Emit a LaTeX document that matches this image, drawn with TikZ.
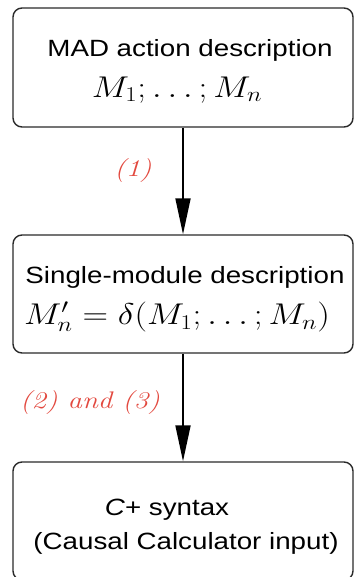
\RequirePackage{fix-cm}
\documentclass[tikz,border=0pt]{standalone}
\usepackage{amsmath,amssymb}
\usepackage{fontspec}
\newfontfamily\arialfont{Liberation Sans}
\usetikzlibrary{arrows.meta, positioning}
\definecolor{lblred}{HTML}{E2483E}
\definecolor{edgegray}{HTML}{2A2A2A}

\begin{document}
\begin{tikzpicture}[x=1pt, y=-1pt,
  box/.style={draw=edgegray, line width=1.4pt, rounded corners=9pt, minimum width=340pt},
  txt/.style={font=\arialfont\fontsize{23.5}{27}\selectfont, xscale=1.18, transform shape},
  mth/.style={font=\fontsize{30}{34}\selectfont, xscale=1.18, transform shape},
  steplbl/.style={text=lblred, font=\itshape\fontsize{24}{27}\selectfont, xscale=1.2, transform shape},
  flow/.style={line width=1.8pt, -{Triangle[length=36pt, width=15pt]}}]

\useasboundingbox (0,0) rectangle (354,577);

% Box: MAD action description
\node[box, minimum height=119pt] (mad) at (183,67.5) {};
\node[txt] (madtxt) at (190,50) {MAD action description};
\node[mth] (madmath) at (177,90) {$M_1;\ldots;M_n$};

% Box: single-module description
\node[box, minimum height=118pt] (single) at (183,294) {};
\node[txt] (singletxt) at (185,277) {Single-module description};
\node[mth] (singlemath) at (177,317) {$M'_n=\delta(M_1;\ldots;M_n)$};

% Box: C+ syntax
\node[box, minimum height=118pt] (cplus) at (183,521) {};
\node[txt] (cplustxt) at (167,510) {\textit{C}+ syntax};
\node[txt] (cplusin) at (186,543) {(Causal Calculator input)};

% Arrows with their step labels
\draw[flow] (mad.south) -- (single.north);
\draw[flow] (single.south) -- (cplus.north);
\node[steplbl] (stepone) at (133,171) {(1)};
\node[steplbl] (steptwo) at (90,403) {(2) and (3)};

\end{tikzpicture}
\end{document}
